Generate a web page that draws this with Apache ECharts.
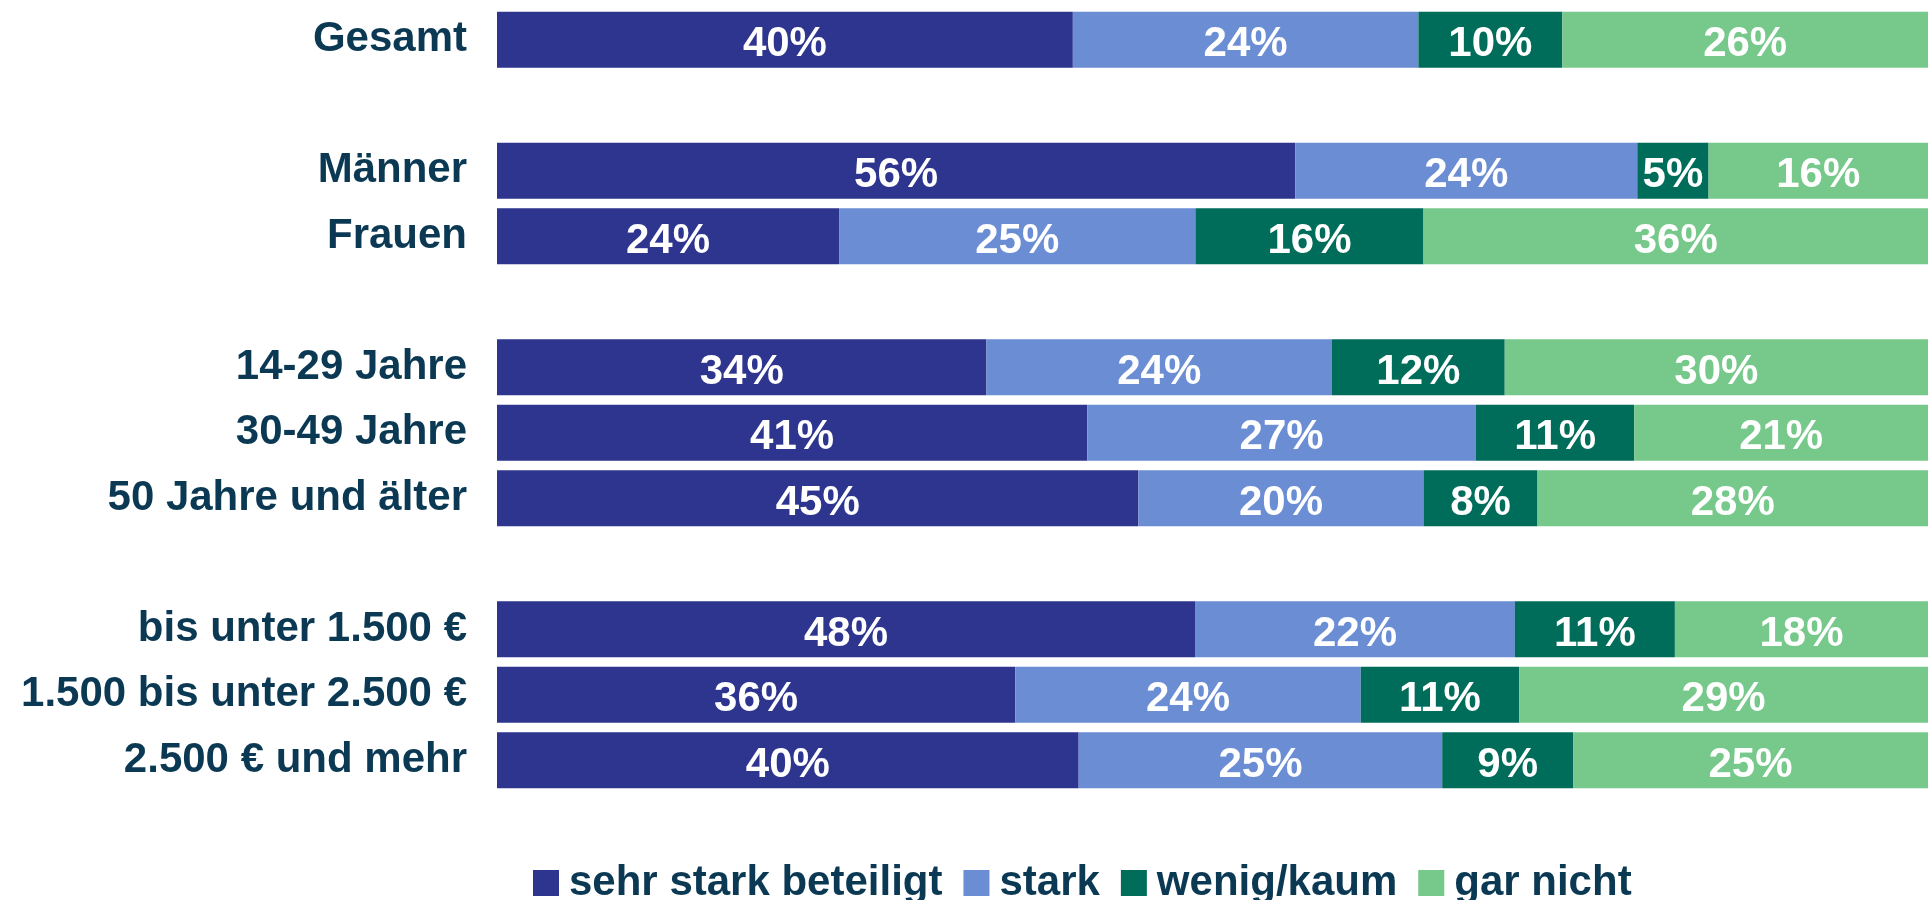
<!DOCTYPE html>
<html>
<head>
<meta charset="utf-8">
<script src="https://cdn.jsdelivr.net/npm/echarts@6/dist/echarts.min.js"></script>
<style>
  html, body { margin: 0; padding: 0; background: #fff; }
  #chart { width: 1928px; height: 900px; }
</style>
</head>
<body>
<div id="chart"></div>
<script>
// rows top to bottom, blank entries are the gaps between groups
const categories = [
    'Gesamt', ' ', 'Männer', 'Frauen', '  ',
    '14-29 Jahre', '30-49 Jahre', '50 Jahre und älter', '   ',
    'bis unter 1.500 €', '1.500 bis unter 2.500 €', '2.500 € und mehr'
];
const seriesNames = ['sehr stark beteiligt', 'stark', 'wenig/kaum', 'gar nicht'];
const sehrStark = [40, null, 56, 24, null, 34, 41, 45, null, 48, 36, 40];
const stark     = [24, null, 24, 25, null, 24, 27, 20, null, 22, 24, 25];
const wenig     = [10, null, 5, 16, null, 12, 11, 8, null, 11, 11, 9];
const garNicht  = [26, null, 16, 36, null, 30, 21, 28, null, 18, 29, 25];
const colors = ['#2E358F', '#6A8DD4', '#006C5A', '#76C98A'];

const raw = [sehrStark, stark, wenig, garNicht];
// rounded shares do not always add up to 100, so each row is scaled to a full bar
const rowTotal = categories.map((c, i) =>
    raw.reduce((s, arr) => s + (arr[i] || 0), 0));

const font = '"Liberation Sans", Arial, sans-serif';
const textColor = '#0B3954';

const chart = echarts.init(document.getElementById('chart'));

const option = {
    animation: false,
    textStyle: { fontFamily: font },
    grid: { left: 497, right: 0, top: 7, bottom: 107, containLabel: false },
    legend: {
        data: seriesNames,
        left: 528,
        top: 857,
        itemWidth: 26,
        itemHeight: 26,
        itemGap: 21,
        icon: 'rect',
        textStyle: {
            fontFamily: font,
            fontSize: 42,
            fontWeight: 'bold',
            color: textColor,
            padding: [0, 0, 0, 5]
        }
    },
    xAxis: {
        type: 'value',
        min: 0,
        max: 99.4, // the full bars run slightly past the right edge
        show: false
    },
    yAxis: {
        type: 'category',
        inverse: true,
        data: categories,
        axisLine: { show: false },
        axisTick: { show: false },
        axisLabel: {
            margin: 30,
            fontFamily: font,
            fontSize: 42,
            fontWeight: 'bold',
            color: textColor
        }
    },
    series: raw.map((arr, k) => ({
        name: seriesNames[k],
        type: 'bar',
        stack: 'total',
        barWidth: 56,
        clip: true,
        itemStyle: { color: colors[k] },
        label: {
            show: true,
            position: 'inside',
            offset: [0, 5],
            fontFamily: font,
            fontSize: 42,
            fontWeight: 'bold',
            color: '#fff',
            formatter: p => arr[p.dataIndex] + '%'
        },
        data: arr.map((v, i) => v == null ? null : v / rowTotal[i] * 100)
    }))
};

chart.setOption(option);
</script>
</body>
</html>
